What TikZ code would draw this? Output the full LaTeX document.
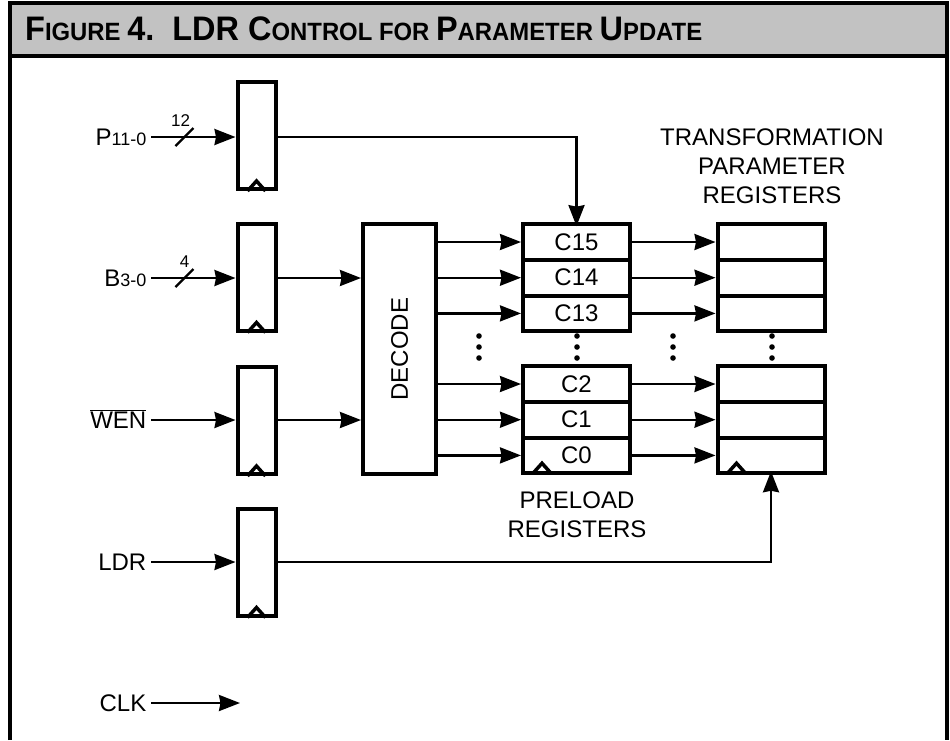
\documentclass[tikz,border=0pt]{standalone}
\usepackage{fontspec}
\setmainfont{Liberation Sans}
\usepackage{graphicx}
\usetikzlibrary{arrows.meta, positioning, calc}

\newcommand{\capbig}{\fontsize{34}{40}\selectfont}
\newcommand{\capsm}{\fontsize{25}{30}\selectfont}
\newcommand{\subsz}{\fontsize{18}{21}\selectfont}

\begin{document}
\begin{tikzpicture}[
        x=1pt, y=-1pt,
        lbl/.style={font=\fontsize{24}{29}\selectfont},
        inlbl/.style={lbl, anchor=east, inner sep=4.5pt, text height=17pt, text depth=0pt},
        ffbox/.style={rectangle, draw, line width=4pt, minimum width=38pt, minimum height=107pt, inner sep=0pt},
        decbox/.style={rectangle, draw, line width=4pt, minimum width=73pt, minimum height=250pt, inner sep=0pt},
        cell/.style={rectangle, draw, line width=4pt, outer sep=0pt, minimum width=107pt, minimum height=35.7pt, inner sep=0pt, lbl},
        clk/.style={line width=3.5pt, line join=miter},
        arr/.style={-{Stealth[length=21pt, width=16pt, inset=1.5pt]}, line width=2.4pt},
        wire/.style={line width=2.4pt},
        buslbl/.style={font=\fontsize{17}{20}\selectfont, inner sep=0pt}
    ]
        \useasboundingbox (0,0) rectangle (950,740);

        % Frame and title bar
        \fill[black!24] (10,3) rectangle (947,56);
        \draw[line width=3.5pt] (10,56) -- (947,56);
        \draw[line width=3.5pt] (10,740) |- (947,3) -- (947,740);
        \node[anchor=base west, inner sep=0pt, font=\bfseries] (title) at (25,40)
            {\scalebox{0.955}[1]{\capbig F\capsm IGURE \capbig 4.\ \ LDR C\capsm ONTROL FOR \capbig P\capsm ARAMETER \capbig U\capsm PDATE}};

        % Input registers
        \node[ffbox] (ffP) at (256.5,135.5) {};
        \node[ffbox] (ffB) at (256.5,277) {};
        \node[ffbox] (ffW) at (256.5,420.5) {};
        \node[ffbox] (ffL) at (256.5,562) {};

        \node[inlbl] (lblP) at (151,137) {P{\subsz 11-0}};
        \node[inlbl] (lblB) at (151,278) {B{\subsz 3-0}};
        \node[inlbl] (lblW) at (151,420) {$\overline{\hbox{WEN}}$};
        \node[inlbl] (lblL) at (151,562) {LDR};
        \node[inlbl] (lblC) at (151,703) {CLK};
        \coordinate (clkend) at (240,703);

        \draw[arr] (lblP) -- (lblP -| ffP.west);
        \draw[arr] (lblB) -- (lblB -| ffB.west);
        \draw[arr] (lblW) -- (lblW -| ffW.west);
        \draw[arr] (lblL) -- (lblL -| ffL.west);
        \draw[arr] (lblC) -- (clkend);

        % bus widths
        \draw[wire] ([shift={(-60,9)}]lblP -| ffP.west) -- ++(18,-18);
        \node[buslbl] (wP) at ([shift={(-55,-16)}]lblP -| ffP.west) {12};
        \draw[wire] ([shift={(-60,9)}]lblB -| ffB.west) -- ++(18,-18);
        \node[buslbl] (wB) at ([shift={(-51,-16)}]lblB -| ffB.west) {4};

        % Decoder
        \node[decbox] (decode) at (399.5,349) {};
        \node[lbl, rotate=90] (decodetxt) at (decode.center) {DECODE};
        \draw[arr] (lblB -| ffB.east) -- (lblB -| decode.west);
        \draw[arr] (lblW -| ffW.east) -- (lblW -| decode.west);

        % Preload registers
        \node[cell] (c15) at (576.5,242) {C15};
        \node[cell, below=0pt of c15] (c14) {C14};
        \node[cell, below=0pt of c14] (c13) {C13};
        \node[cell] (c2) at (576.5,384) {C2};
        \node[cell, below=0pt of c2] (c1) {C1};
        \node[cell, below=0pt of c1] (c0) {C0};

        % Transformation parameter registers
        \node[cell] (t15) at (771,242) {};
        \node[cell, below=0pt of t15] (t14) {};
        \node[cell, below=0pt of t14] (t13) {};
        \node[cell] (t2) at (771,384) {};
        \node[cell, below=0pt of t2] (t1) {};
        \node[cell, below=0pt of t1] (t0) {};

        \foreach \r in {c15,c14,c13,c2,c1,c0} {
            \draw[arr] (decode.east |- \r) -- ([xshift=-2pt]\r.west);
        }
        \foreach \r/\s in {c15/t15,c14/t14,c13/t13,c2/t2,c1/t1,c0/t0} {
            \draw[arr] ([xshift=2pt]\r.east) -- ([xshift=-2pt]\s.west);
        }

        \draw[arr] (lblP -| ffP.east) -| ([yshift=-2pt]c15.north);
        \draw[arr] (lblL -| ffL.east) -| ([yshift=2pt]t0.south);

        % clock marks
        \foreach \n in {ffP,ffB,ffW,ffL} {
            \draw[clk] ([xshift=-9pt]\n.south) -- ++(9,-10) -- ++(9,10);
        }
        \draw[clk] ([xshift=10pt]c0.south west) -- ++(9,-10) -- ++(9,10);
        \draw[clk] ([xshift=10pt]t0.south west) -- ++(9,-10) -- ++(9,10);

        % dots
        \foreach \x in {479,577,673,772} {
            \foreach \y in {336,347,358} {
                \fill (\x,\y) circle (2.8);
            }
        }

        % captions
        \node[lbl, align=center] (tpcap) at (772,166) {TRANSFORMATION\\PARAMETER\\REGISTERS};
        \node[lbl, align=center] (plcap) at (577,515) {PRELOAD\\REGISTERS};
    \end{tikzpicture}
\end{document}
